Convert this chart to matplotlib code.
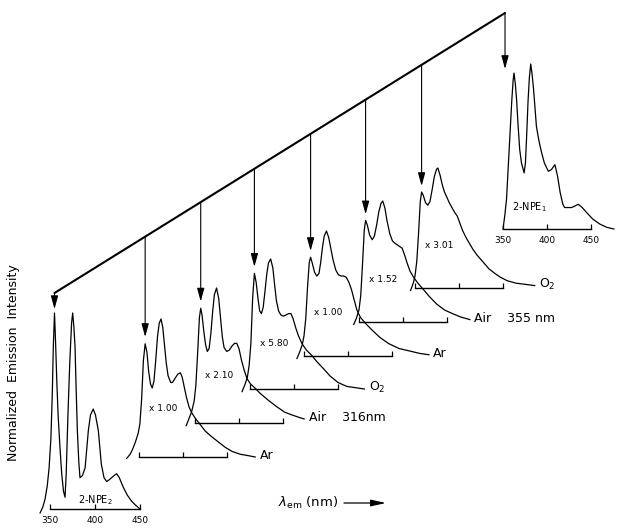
import matplotlib
matplotlib.use("Agg")
import matplotlib.pyplot as plt

W, H = 619, 530

# ---- emission spectra: wavelength (nm) and normalized intensity ----
# 2-NPE2, reference spectrum (bottom left)
NPE2_WL = [339, 342, 344.5, 347, 349, 351, 352.5, 353.7, 355, 356.2, 357.5, 359, 361, 363, 365,
           366.7, 368, 370, 372, 374, 375.2, 376.5, 377.8, 379, 380.4, 382, 383.3, 386, 389,
           392.6, 395, 398, 400.5, 403.7, 407, 410, 413, 416, 418.5, 421, 424, 427, 431.5, 436,
           440.7, 445, 450]
NPE2_I = [-0.02, 0.01, 0.05, 0.12, 0.21, 0.36, 0.58, 0.83, 1.00, 0.85, 0.66, 0.48, 0.32, 0.18,
          0.09, 0.06, 0.18, 0.49, 0.75, 0.95, 1.00, 0.93, 0.83, 0.62, 0.40, 0.24, 0.16, 0.17,
          0.21, 0.40, 0.48, 0.51, 0.48, 0.40, 0.23, 0.16, 0.14, 0.15, 0.16, 0.17, 0.18, 0.16,
          0.11, 0.07, 0.04, 0.02, 0.0]

# 2-NPE1, reference spectrum (top right)
NPE1_WL = [350, 352, 354, 356, 358, 360, 361.5, 362.5, 364, 365.5, 367, 369, 371, 374, 375.5,
           377, 378.5, 380, 381.5, 383, 384.5, 386, 388, 391, 394, 397, 401.5, 405, 409, 412,
           415, 418, 420, 424, 428, 432, 435.5, 440, 445, 452, 460, 468, 476]
NPE1_I = [0.0, 0.08, 0.18, 0.38, 0.58, 0.78, 0.90, 0.945, 0.88, 0.78, 0.64, 0.48, 0.40, 0.34,
          0.40, 0.58, 0.78, 0.92, 1.00, 0.94, 0.86, 0.76, 0.62, 0.53, 0.46, 0.40, 0.35, 0.36,
          0.39, 0.32, 0.22, 0.15, 0.13, 0.13, 0.13, 0.14, 0.15, 0.13, 0.10, 0.06, 0.03, 0.01, 0.0]

# excitation 316 nm: Ar, Air, O2
EX316_AR_WL = [336, 340, 343, 346, 349, 351, 353, 355, 357, 359, 361, 363, 365, 367, 369, 371,
               373, 375, 377, 379, 381, 383, 386, 388, 391, 394, 397, 399, 401, 404, 407, 410,
               414, 419, 425, 432, 440, 448, 456, 465, 474, 482]
EX316_AR_I = [-0.01, 0.02, 0.06, 0.11, 0.17, 0.24, 0.42, 0.70, 0.82, 0.76, 0.62, 0.53, 0.50,
              0.55, 0.70, 0.87, 0.97, 1.00, 0.94, 0.81, 0.68, 0.59, 0.54, 0.54, 0.57, 0.60,
              0.61, 0.58, 0.52, 0.43, 0.36, 0.32, 0.28, 0.24, 0.19, 0.15, 0.11, 0.07, 0.04,
              0.02, 0.01, 0.0]

EX316_AIR_WL = [340, 343, 346, 349, 351, 353, 355, 356.5, 358, 360, 362, 364, 366, 368, 370,
                372, 374.5, 377, 379, 381, 383, 386, 389, 392, 395, 397.5, 400, 403, 406, 409,
                413, 418, 424, 433, 443, 452, 460, 469, 474]
EX316_AIR_I = [-0.02, 0.03, 0.08, 0.16, 0.28, 0.52, 0.78, 0.85, 0.80, 0.68, 0.58, 0.53, 0.55,
               0.66, 0.82, 0.95, 1.00, 0.92, 0.78, 0.64, 0.56, 0.53, 0.54, 0.57, 0.59, 0.59,
               0.55, 0.46, 0.39, 0.33, 0.29, 0.26, 0.22, 0.17, 0.12, 0.08, 0.06, 0.04, 0.03]

EX316_O2_WL = [341, 344, 347, 349, 351, 353, 355, 357, 359, 361, 363, 365, 367, 369, 371, 373.5,
               376, 378, 380, 382.5, 385, 388, 391, 394, 396.5, 399, 402, 405, 409, 414, 420,
               426, 433, 441, 450, 460, 470, 480]
EX316_O2_I = [-0.02, 0.03, 0.09, 0.18, 0.35, 0.70, 0.89, 0.82, 0.70, 0.60, 0.58, 0.63, 0.75,
              0.88, 0.97, 1.00, 0.93, 0.80, 0.68, 0.60, 0.57, 0.56, 0.57, 0.58, 0.58, 0.54,
              0.47, 0.41, 0.35, 0.30, 0.26, 0.21, 0.16, 0.10, 0.05, 0.02, 0.01, 0.0]

# excitation 355 nm: Ar, Air, O2
EX355_AR_WL = [342, 345, 348, 350, 352, 354, 356, 357.5, 359.5, 362, 364.5, 367, 369, 371, 373,
               375.5, 378, 380.5, 383, 386, 389, 392, 395, 398, 401, 404, 407, 410, 414, 420,
               427, 436, 446, 458, 470, 482, 492]
EX355_AR_I = [-0.02, 0.03, 0.09, 0.16, 0.30, 0.55, 0.75, 0.79, 0.74, 0.67, 0.64, 0.66, 0.75,
              0.87, 0.96, 1.00, 0.95, 0.86, 0.77, 0.69, 0.65, 0.64, 0.64, 0.63, 0.59, 0.53,
              0.45, 0.37, 0.31, 0.26, 0.21, 0.15, 0.10, 0.06, 0.04, 0.02, 0.01]

EX355_AIR_WL = [344, 347, 350, 352, 354, 356, 357.5, 359.5, 362, 365, 367.5, 370, 372.5, 375,
                377, 379.5, 382, 385, 388, 391, 395, 399, 402, 405, 408, 412, 417, 423, 430,
                438, 447, 456, 466, 476]
EX355_AIR_I = [-0.02, 0.03, 0.10, 0.22, 0.48, 0.76, 0.84, 0.80, 0.72, 0.68, 0.71, 0.80, 0.91,
               0.98, 1.00, 0.94, 0.83, 0.73, 0.67, 0.65, 0.63, 0.61, 0.55, 0.48, 0.42, 0.37,
               0.32, 0.27, 0.21, 0.15, 0.10, 0.07, 0.04, 0.02]

EX355_O2_WL = [345, 348, 350, 352, 354, 356, 357.5, 359.5, 362, 364.5, 367, 369.5, 372, 374.5,
               376, 378.5, 381, 383.5, 386, 389, 392, 395, 398, 401, 404, 408, 412, 416, 421,
               427, 434, 441, 447, 455, 465, 476, 486]
EX355_O2_I = [-0.02, 0.04, 0.10, 0.22, 0.45, 0.72, 0.80, 0.77, 0.71, 0.69, 0.72, 0.82, 0.93,
              0.99, 1.00, 0.94, 0.86, 0.80, 0.76, 0.71, 0.67, 0.63, 0.60, 0.54, 0.48, 0.42,
              0.37, 0.32, 0.27, 0.22, 0.16, 0.12, 0.09, 0.06, 0.04, 0.03, 0.02]

SERIES = [(EX316_AR_WL, EX316_AR_I), (EX316_AIR_WL, EX316_AIR_I), (EX316_O2_WL, EX316_O2_I),
          (EX355_AR_WL, EX355_AR_I), (EX355_AIR_WL, EX355_AIR_I), (EX355_O2_WL, EX355_O2_I)]
SCALE_LABELS = ["x 1.00", "x 2.10", "x 5.80", "x 1.00", "x 1.52", "x 3.01"]
GAS_LABELS = ["Ar", "Air    316nm", "O$_2$", "Ar", "Air    355 nm", "O$_2$"]
TICKS = [350, 400, 450]

# layout (pixels): left, baseline y, width, height of each small panel
PANELS = [(139, 457, 88, 138), (195, 423, 88, 135), (250, 389, 88, 130),
          (304, 356, 88, 125), (359, 322, 88, 121), (415, 288, 88, 120)]
NPE2_BOX = (50, 509, 90, 196)
NPE1_BOX = (503, 229, 88, 165)
DIAG_Y = (293, 13)

fig = plt.figure(figsize=(W / 100, H / 100), dpi=100)
bg = fig.add_axes([0, 0, 1, 1])
bg.set_xlim(0, W)
bg.set_ylim(H, 0)
bg.axis("off")


def add_panel(box, labels=False):
    x0, y0, w, h = box
    ax = fig.add_axes([x0 / W, (H - y0) / H, w / W, h / H])
    ax.set_xlim(350, 450)
    ax.set_ylim(0, 1)
    ax.patch.set_visible(False)
    for s in ("top", "left", "right"):
        ax.spines[s].set_visible(False)
    ax.spines["bottom"].set_linewidth(1.0)
    ax.set_yticks([])
    ax.set_xticks(TICKS)
    ax.tick_params(axis="x", direction="in", length=3.5, width=0.9,
                   labelsize=6.5, pad=5, labelbottom=labels)
    return ax


def to_bg(ax, pt):
    return bg.transData.inverted().transform(ax.transData.transform(pt))


def peak_tip(wl, inten):
    i = max(range(len(inten)), key=lambda k: inten[k] if wl[k] < 362 else -1)
    return wl[i], inten[i]


arrow_kw = dict(arrowstyle="-|>,head_length=0.8,head_width=0.22", lw=0.8,
                color="black", mutation_scale=10, shrinkA=0, shrinkB=0)

ax2 = add_panel(NPE2_BOX, labels=True)
ax2.plot(NPE2_WL, NPE2_I, color="black", lw=0.9, clip_on=False)
ax2.text(400, 0.045, "2-NPE$_2$", fontsize=7, ha="center", va="center")

ax1 = add_panel(NPE1_BOX, labels=True)
ax1.plot(NPE1_WL, NPE1_I, color="black", lw=0.9, clip_on=False)
ax1.text(380, 0.13, "2-NPE$_1$", fontsize=7, ha="center", va="center")

left_tip = to_bg(ax2, (355, 1.02))
right_tip = to_bg(ax1, (352.3, 0.97))
x_l, x_r = left_tip[0], right_tip[0]


def diag_y(x):
    return DIAG_Y[0] + (DIAG_Y[1] - DIAG_Y[0]) * (x - x_l) / (x_r - x_l)


bg.plot([x_l, x_r], DIAG_Y, color="black", lw=1.5, solid_capstyle="round")
for tip in (left_tip, right_tip):
    bg.annotate("", xy=tip, xytext=(tip[0], diag_y(tip[0])), arrowprops=arrow_kw)

for box, (wl, inten), sc, gas in zip(PANELS, SERIES, SCALE_LABELS, GAS_LABELS):
    ax = add_panel(box)
    ax.plot(wl, inten, color="black", lw=0.9, clip_on=False)
    ax.text(377, 0.35, sc, fontsize=6.5, ha="center", va="center")
    ax.text(wl[-1] + 5, inten[-1] + 0.01, gas, fontsize=9, ha="left", va="center")
    pw, pi = peak_tip(wl, inten)
    tip = to_bg(ax, (pw, pi + 0.05))
    bg.annotate("", xy=tip, xytext=(tip[0], diag_y(tip[0])), arrowprops=arrow_kw)

bg.text(14, 363, "Normalized  Emission  Intensity", rotation=90, fontsize=9,
        ha="center", va="center")
bg.text(278, 503, r"$\lambda_{\rm em}$ (nm)", fontsize=9.5, ha="left", va="center")
bg.annotate("", xy=(386, 503), xytext=(344, 503),
            arrowprops=dict(arrowstyle="-|>,head_length=0.9,head_width=0.2", lw=0.9,
                            color="black", mutation_scale=10, shrinkA=0, shrinkB=0))

fig.savefig("out.png", dpi=100)
